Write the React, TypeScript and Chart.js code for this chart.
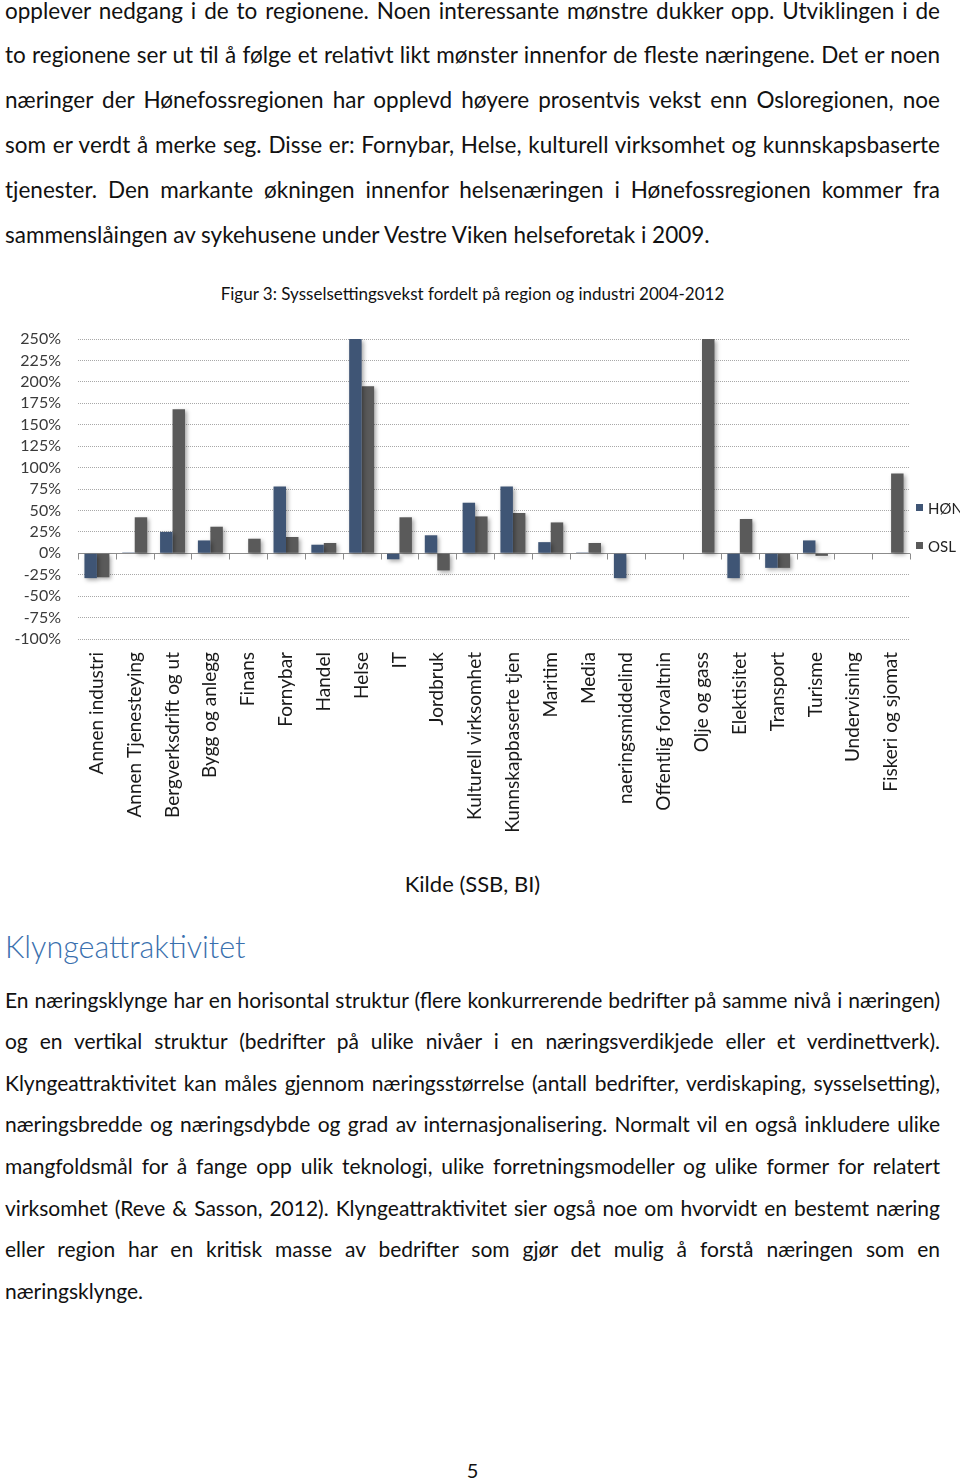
import React, { useEffect, useRef } from "react";
import { Chart, registerables } from "chart.js";

Chart.register(...registerables);

const categories = [
  "Annen industri",
  "Annen Tjenesteying",
  "Bergverksdrift og ut",
  "Bygg og anlegg",
  "Finans",
  "Fornybar",
  "Handel",
  "Helse",
  "IT",
  "Jordbruk",
  "Kulturell virksomhet",
  "Kunnskapbaserte tjen",
  "Maritim",
  "Media",
  "naeringsmiddelind",
  "Offentlig forvaltnin",
  "Olje og gass",
  "Elektisitet",
  "Transport",
  "Turisme",
  "Undervisning",
  "Fiskeri og sjomat",
];

const honValues = [-29, 1, 25, 15, 0, 78, 10, 250, -7, 21, 59, 78, 13, 1, -29, 0, 0, -29, -17, 15, 0, 0];
const oslValues = [-28, 42, 168, 31, 17, 19, 12, 195, 42, -20, 43, 47, 36, 12, 0, 0, 250, 40, -17, -3, 0, 93];

const seriesNames = ["HØN", "OSL"];
const seriesColors = ["#3f5575", "#5a5a5a"];

const yMin = -100;
const yMax = 250;
const yStep = 25;

const topParagraph = [
  "opplever nedgang i de to regionene. Noen interessante mønstre dukker opp. Utviklingen i de",
  "to regionene ser ut til å følge et relativt likt mønster innenfor de fleste næringene. Det er noen",
  "næringer der Hønefossregionen har opplevd høyere prosentvis vekst enn Osloregionen, noe",
  "som er verdt å merke seg. Disse er: Fornybar, Helse, kulturell virksomhet og kunnskapsbaserte",
  "tjenester. Den markante økningen innenfor helsenæringen i Hønefossregionen kommer fra",
  "sammenslåingen av sykehusene under Vestre Viken helseforetak i 2009.",
];

const bottomParagraph = [
  "En næringsklynge har en horisontal struktur (flere konkurrerende bedrifter på samme nivå i næringen)",
  "og en vertikal struktur (bedrifter på ulike nivåer i en næringsverdikjede eller et verdinettverk).",
  "Klyngeattraktivitet kan måles gjennom næringsstørrelse (antall bedrifter, verdiskaping, sysselsetting),",
  "næringsbredde og næringsdybde og grad av internasjonalisering. Normalt vil en også inkludere ulike",
  "mangfoldsmål for å fange opp ulik teknologi, ulike forretningsmodeller og ulike former for relatert",
  "virksomhet (Reve & Sasson, 2012). Klyngeattraktivitet sier også noe om hvorvidt en bestemt næring",
  "eller region har en kritisk masse av bedrifter som gjør det mulig å forstå næringen som en",
  "næringsklynge.",
];

const chartTitle = "Figur 3: Sysselsettingsvekst fordelt på region og industri 2004-2012";
const sourceText = "Kilde (SSB, BI)";
const headingText = "Klyngeattraktivitet";
const pageNumber = "5";

const FONT = "Lato, 'Open Sans', sans-serif";

const zeroAxisAndShadow = {
  id: "zeroAxisAndShadow",
  beforeDatasetsDraw(chart: any) {
    const { ctx, chartArea, scales } = chart;
    const y0 = Math.round(scales.y.getPixelForValue(0)) + 0.5;
    ctx.save();
    ctx.strokeStyle = "#8c8c8c";
    ctx.lineWidth = 1;
    ctx.beginPath();
    ctx.moveTo(chartArea.left, y0);
    ctx.lineTo(chartArea.right, y0);
    const n = categories.length;
    for (let i = 0; i <= n; i++) {
      let x: number;
      if (i === 0) x = chartArea.left;
      else if (i === n) x = chartArea.right;
      else x = (scales.x.getPixelForValue(i - 1) + scales.x.getPixelForValue(i)) / 2;
      x = Math.round(x) + 0.5;
      ctx.moveTo(x, y0);
      ctx.lineTo(x, y0 + 6);
    }
    ctx.stroke();
    ctx.restore();
    ctx.save();
    ctx.shadowColor = "rgba(0,0,0,0.35)";
    ctx.shadowBlur = 4;
    ctx.shadowOffsetX = 2;
    ctx.shadowOffsetY = 2;
  },
  afterDatasetsDraw(chart: any) {
    chart.ctx.restore();
  },
};

function BarChart() {
  const ref = useRef<HTMLCanvasElement | null>(null);
  useEffect(() => {
    if (!ref.current) return;
    const chart = new Chart(ref.current, {
      type: "bar",
      data: {
        labels: categories,
        datasets: [
          {
            label: seriesNames[0],
            data: honValues,
            backgroundColor: seriesColors[0],
            borderWidth: 0,
            categoryPercentage: 0.66,
            barPercentage: 1,
          },
          {
            label: seriesNames[1],
            data: oslValues,
            backgroundColor: seriesColors[1],
            borderWidth: 0,
            categoryPercentage: 0.66,
            barPercentage: 1,
          },
        ],
      },
      options: {
        responsive: false,
        animation: false,
        layout: { padding: { top: 19, right: 50, left: 0, bottom: 0 } },
        plugins: {
          legend: { display: false },
          tooltip: { enabled: false },
        },
        scales: {
          x: {
            grid: { display: false, drawTicks: false },
            border: { display: false },
            ticks: {
              autoSkip: false,
              minRotation: 90,
              maxRotation: 90,
              padding: 13,
              color: "#1a1a1a",
              font: { family: FONT, size: 19 },
            },
            afterFit: (s: any) => {
              s.height = 200;
            },
          },
          y: {
            min: yMin,
            max: yMax,
            ticks: {
              stepSize: yStep,
              autoSkip: false,
              callback: (v: any) => v + "%",
              padding: 3,
              color: "#3a3a3a",
              font: { family: FONT, size: 16 },
            },
            grid: {
              color: "#a8a8a8",
              drawTicks: true,
              tickLength: 14,
              tickColor: "rgba(0,0,0,0)",
              lineWidth: 1,
            },
            border: { display: false, dash: [1, 1] },
            afterFit: (s: any) => {
              s.width = 78;
            },
          },
        },
      },
      plugins: [zeroAxisAndShadow],
    } as any);
    return () => chart.destroy();
  }, []);
  return (
    <canvas
      ref={ref}
      width={960}
      height={519}
      style={{ position: "absolute", left: 0, top: 320, width: 960, height: 519, display: "block" }}
    />
  );
}

function TextLine(props: {
  text: string;
  c: number;
  size: number;
  justify?: boolean;
  left?: number;
  width?: number;
  align?: "left" | "center";
  color?: string;
  weight?: number;
}) {
  const { text, c, size, justify, left = 5, width = 935, align = "left", color = "#111", weight = 400 } = props;
  const L = Math.round(size * 1.3);
  const top = c - L / 2 - 0.134 * size;
  return (
    <div
      style={{
        position: "absolute",
        left,
        width,
        top,
        height: L,
        lineHeight: L + "px",
        fontSize: size,
        fontFamily: FONT,
        fontWeight: weight,
        color,
        textAlign: justify ? "justify" : align,
        textAlignLast: justify ? "justify" : align,
        overflow: "visible",
      } as any}
    >
      {text}
    </div>
  );
}

function Legend() {
  const rows = [
    { name: seriesNames[0], color: seriesColors[0], c: 508 },
    { name: seriesNames[1], color: seriesColors[1], c: 546 },
  ];
  return (
    <>
      {rows.map((r) => (
        <React.Fragment key={r.name}>
          <div
            style={{ position: "absolute", left: 916, top: r.c - 4, width: 7, height: 7, background: r.color }}
          />
          <div
            style={{
              position: "absolute",
              left: 928,
              top: r.c - 10,
              height: 20,
              lineHeight: "20px",
              fontSize: 15,
              fontFamily: FONT,
              color: "#222",
              whiteSpace: "nowrap",
            }}
          >
            {r.name}
          </div>
        </React.Fragment>
      ))}
    </>
  );
}

export default function App() {
  return (
    <div
      style={{
        position: "absolute",
        left: 0,
        top: 0,
        width: 960,
        height: 1483,
        overflow: "hidden",
        background: "#fff",
      }}
    >
      {topParagraph.map((t, i) => (
        <TextLine key={"t" + i} text={t} c={13 + 45 * i} size={22.5} justify={i < topParagraph.length - 1} />
      ))}
      <TextLine text={chartTitle} c={296} size={17} align="center" />
      <BarChart />
      <Legend />
      <TextLine text={sourceText} c={886} size={22} align="center" />
      <TextLine text={headingText} c={950} size={30.5} color="#3a70ae" weight={300} />
      {bottomParagraph.map((t, i) => (
        <TextLine key={"b" + i} text={t} c={1002 + 41.57 * i} size={21} justify={i < bottomParagraph.length - 1} />
      ))}
      <TextLine text={pageNumber} c={1473} size={20} align="center" />
    </div>
  );
}
